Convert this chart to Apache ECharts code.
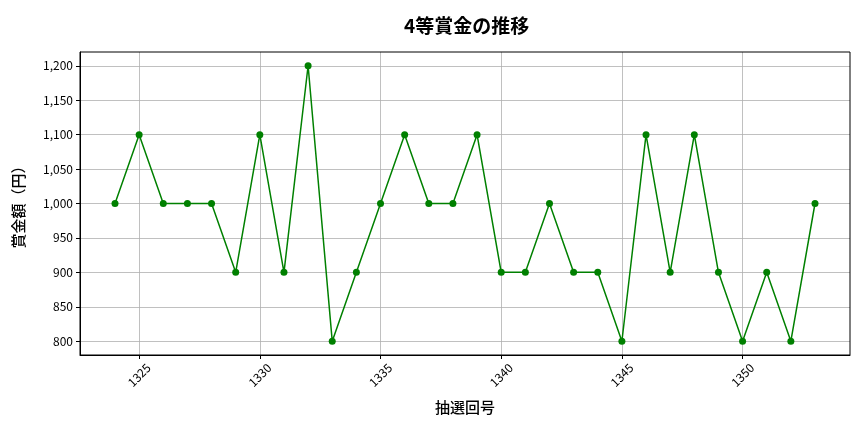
<!DOCTYPE html>
<html><head><meta charset="utf-8">
<script src="https://cdn.jsdelivr.net/npm/echarts@6/dist/echarts.min.js"></script>
<style>html,body{margin:0;padding:0;background:#fff}#c{width:864px;height:432px}</style>
</head><body><div id="c"></div>
<script>
const draws = [1324,1325,1326,1327,1328,1329,1330,1331,1332,1333,1334,1335,1336,1337,1338,1339,1340,1341,1342,1343,1344,1345,1346,1347,1348,1349,1350,1351,1352,1353];
const prizes = [1000,1100,1000,1000,1000,900,1100,900,1200,800,900,1000,1100,1000,1000,1100,900,900,1000,900,900,800,1100,900,1100,900,800,900,800,1000];
const xTicks = [1325,1330,1335,1340,1345,1350];
const yTicks = [800,850,900,950,1000,1050,1100,1150,1200];
const font = '"Noto Sans CJK JP","Noto Sans",sans-serif';
const chart = echarts.init(document.getElementById('c'));
chart.setOption({
  animation:false,
  title:{text:'4等賞金の推移',left:399,top:11,textStyle:{fontFamily:font,fontSize:19,fontWeight:'bold',color:'#000'}},
  grid:{left:80,right:14,top:52,bottom:77},
  xAxis:{type:'value',min:1322.55,max:1354.45,
    name:'抽選回号',nameLocation:'middle',nameGap:45,nameTextStyle:{fontFamily:font,fontSize:15,fontWeight:500,color:'#000'},
    axisLine:{show:true,onZero:false,lineStyle:{color:'#000',width:1}},
    axisTick:{show:true,customValues:xTicks,length:4,lineStyle:{color:'#000'}},
    axisLabel:{customValues:xTicks,rotate:45,align:'center',verticalAlign:'middle',fontFamily:font,fontSize:12,color:'#000',margin:20,formatter:v=>String(v)},
    splitLine:{show:true,lineStyle:{color:'#b0b0b0',width:0.8}}},
  yAxis:{type:'value',min:780,max:1220,
    name:'賞金額（円）',nameLocation:'middle',nameGap:54,nameTextStyle:{fontFamily:font,fontSize:15,fontWeight:500,color:'#000'},
    axisLine:{show:true,onZero:false,lineStyle:{color:'#000',width:1}},
    axisTick:{show:true,customValues:yTicks,length:4,lineStyle:{color:'#000'}},
    axisLabel:{customValues:yTicks,fontFamily:font,fontSize:12,color:'#000',margin:7,
      formatter:v=>v.toLocaleString('en-US')},
    splitLine:{show:true,lineStyle:{color:'#b0b0b0',width:0.8}}},
  series:[{type:'line',data:draws.map((d,i)=>[d,prizes[i]]),
    symbol:'circle',symbolSize:7,
    lineStyle:{color:'#008000',width:1.5},itemStyle:{color:'#008000'}}],
  graphic:[{type:'rect',shape:{x:80,y:52,width:770,height:303},style:{fill:'none',stroke:'#000',lineWidth:1},silent:true,z:100}]
});
</script></body></html>
